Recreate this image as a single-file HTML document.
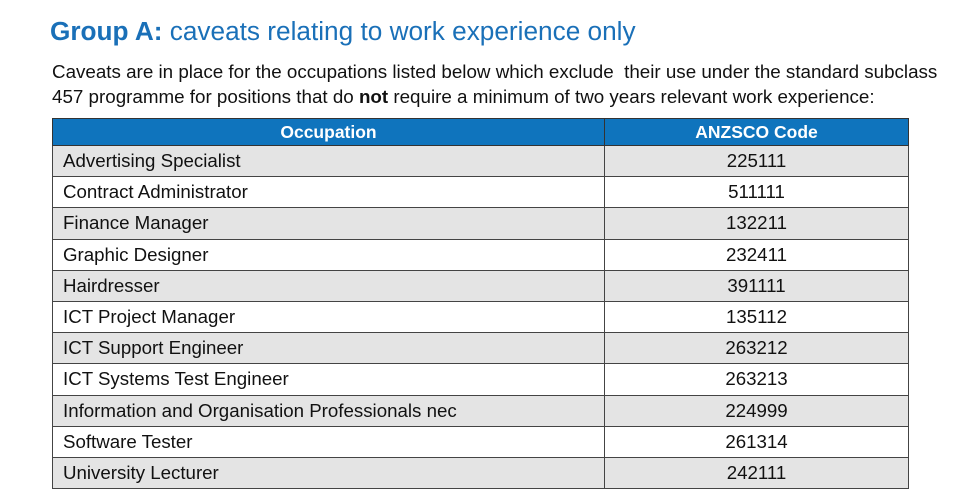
<!DOCTYPE html>
<html><head><meta charset="utf-8"><style>
body{margin:0;width:980px;height:503px;background:#fff;font-family:"Liberation Sans",sans-serif;position:relative;overflow:hidden}
#title{position:absolute;left:50px;top:16px;font-size:26.2px;color:#1a70b8;white-space:nowrap}
#title b{font-weight:bold}
.p{position:absolute;left:52px;font-size:18.8px;color:#111;white-space:nowrap}
table{position:absolute;left:52px;top:118px;width:857px;border-collapse:collapse}
td,th{border:1.5px solid #444;padding:0 10px;height:30.2px;font-size:18.7px;color:#111}
th{background:#0f74bd;color:#fff;font-size:17.5px;height:26px;font-weight:bold;text-align:center;border-color:#333}
td.c{text-align:center;width:283px}
tr.g td{background:#e4e4e4}
</style></head><body>
<div id="title"><b>Group A:</b> caveats relating to work experience only</div>
<div class="p" style="top:61px">Caveats are in place for the occupations listed below which exclude&nbsp; their use under the standard subclass</div>
<div class="p" style="top:86px">457 programme for positions that do <b>not</b> require a minimum of two years relevant work experience:</div>
<table>
<tr><th>Occupation</th><th>ANZSCO Code</th></tr>
<tr class="g"><td>Advertising Specialist</td><td class="c">225111</td></tr>
<tr><td>Contract Administrator</td><td class="c">511111</td></tr>
<tr class="g"><td>Finance Manager</td><td class="c">132211</td></tr>
<tr><td>Graphic Designer</td><td class="c">232411</td></tr>
<tr class="g"><td>Hairdresser</td><td class="c">391111</td></tr>
<tr><td>ICT Project Manager</td><td class="c">135112</td></tr>
<tr class="g"><td>ICT Support Engineer</td><td class="c">263212</td></tr>
<tr><td>ICT Systems Test Engineer</td><td class="c">263213</td></tr>
<tr class="g"><td>Information and Organisation Professionals nec</td><td class="c">224999</td></tr>
<tr><td>Software Tester</td><td class="c">261314</td></tr>
<tr class="g"><td>University Lecturer</td><td class="c">242111</td></tr>
</table>
</body></html>
